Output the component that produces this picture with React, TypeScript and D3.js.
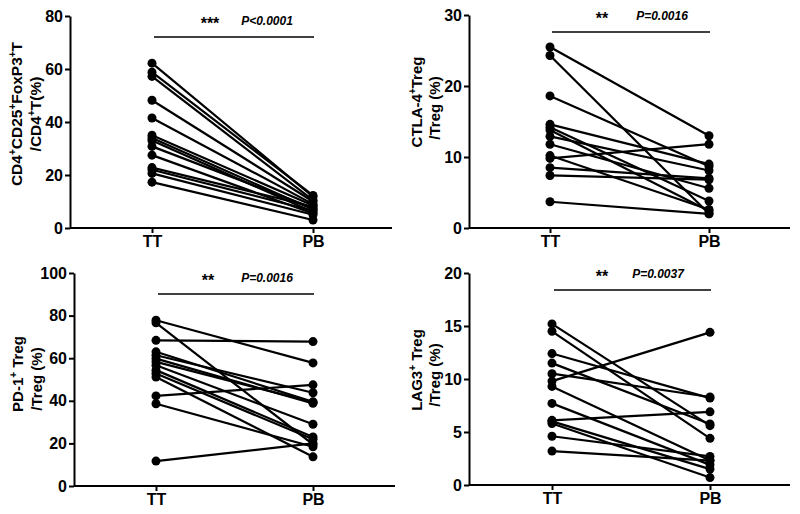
import { useRef, useEffect } from 'react';
import * as d3 from 'd3';

const groups = ['TT', 'PB'];

// panel A: CD4+CD25+FoxP3+T / CD4+T
const foxp3TT = [62.2, 58.8, 57.2, 48.2, 41.5, 35.0, 34.0, 33.0, 30.8, 27.5, 22.8, 22.0, 20.6, 17.3];
const foxp3PB = [11.8, 12.3, 10.5, 10.0, 9.0, 8.5, 7.0, 6.0, 7.5, 5.5, 8.0, 6.5, 5.0, 3.0];

// panel B: CTLA-4+ Treg
const ctlaTT = [25.5, 24.3, 18.6, 14.6, 14.2, 13.8, 12.9, 11.8, 9.8, 10.2, 8.5, 7.4, 3.7];
const ctlaPB = [13.0, 2.0, 8.7, 9.0, 3.8, 2.4, 8.1, 5.6, 11.8, 2.6, 7.0, 6.8, 2.0];

// panel C: PD-1+ Treg
const pd1TT = [77.8, 76.6, 68.4, 63.0, 61.4, 59.8, 58.3, 56.7, 54.4, 52.8, 51.2, 42.3, 38.6, 11.7];
const pd1PB = [57.8, 19.5, 67.8, 39.5, 43.8, 38.8, 39.3, 29.0, 23.0, 21.9, 13.7, 47.5, 18.4, 20.0];

// panel D: LAG3+ Treg
const lag3TT = [15.2, 14.5, 12.4, 11.5, 10.5, 9.8, 9.3, 7.7, 6.1, 6.0, 5.8, 4.6, 3.2];
const lag3PB = [5.6, 4.4, 8.2, 5.75, 8.3, 14.4, 2.3, 1.9, 6.9, 1.5, 0.7, 2.7, 2.3];

const panels = [
  {
    tt: foxp3TT, pb: foxp3PB, max: 80, step: 20,
    x0: 70, xEnd: 392, yTop: 16, yBottom: 228, xTT: 152, xPB: 313,
    stars: '***', p: 'P<0.0001', starX: 210, pX: 267, sigY: 37, textY: 25,
    label1: [['CD4', 'n'], ['+', 's'], ['CD25', 'n'], ['+', 's'], ['FoxP3', 'n'], ['+', 's'], ['T', 'n']],
    label2: [['/CD4', 'n'], ['+', 's'], ['T(%)', 'n']],
    lx1: 22, lx2: 41, ly1: 114, ly2: 114, fs: 15.5,
  },
  {
    tt: ctlaTT, pb: ctlaPB, max: 30, step: 10,
    x0: 469, xEnd: 790, yTop: 15, yBottom: 228, xTT: 550, xPB: 709,
    stars: '**', p: 'P=0.0016', starX: 602, pX: 662, sigY: 32, textY: 20,
    label1: [['CTLA-4', 'n'], ['+', 's'], ['Treg', 'n']],
    label2: [['/Treg (%)', 'n']],
    lx1: 422, lx2: 440, ly1: 102, ly2: 108, fs: 15,
  },
  {
    tt: pd1TT, pb: pd1PB, max: 100, step: 20,
    x0: 74, xEnd: 395, yTop: 273, yBottom: 486, xTT: 156, xPB: 313,
    stars: '**', p: 'P=0.0016', starX: 208, pX: 267, sigY: 294, textY: 282,
    label1: [['PD-1', 'n'], ['+', 's'], [' Treg', 'n']],
    label2: [['/Treg (%)', 'n']],
    lx1: 23, lx2: 42, ly1: 374, ly2: 379, fs: 15,
  },
  {
    tt: lag3TT, pb: lag3PB, max: 20, step: 5,
    x0: 469, xEnd: 790, yTop: 273, yBottom: 485, xTT: 552, xPB: 710,
    stars: '**', p: 'P=0.0037', starX: 602, pX: 658, sigY: 290, textY: 278,
    label1: [['LAG3', 'n'], ['+', 's'], [' Treg', 'n']],
    label2: [['/Treg (%)', 'n']],
    lx1: 422, lx2: 440, ly1: 370, ly2: 375, fs: 15,
  },
];

const App = () => {
  const ref = useRef(null);

  useEffect(() => {
    const svg = d3.select(ref.current);
    svg.selectAll('*').remove();
    const font = '"Liberation Sans", Arial, sans-serif';

    panels.forEach(p => {
      const g = svg.append('g').attr('font-family', font).attr('font-weight', 'bold');

      const y = d3.scaleLinear().domain([0, p.max]).range([p.yBottom, p.yTop]);
      const x = d3.scalePoint().domain(groups).range([p.xTT, p.xPB]);

      // y axis
      const yAxis = g.append('g')
        .attr('transform', `translate(${p.x0},0)`)
        .call(d3.axisLeft(y).tickValues(d3.range(0, p.max + 0.001, p.step)).tickSize(5).tickPadding(2).tickSizeOuter(0));
      yAxis.select('.domain').attr('stroke', '#000').attr('stroke-width', 2);
      yAxis.selectAll('.tick line').attr('stroke', '#000').attr('stroke-width', 2);
      yAxis.selectAll('.tick text').attr('font-size', 16).attr('font-family', font).attr('font-weight', 'bold').attr('fill', '#000');

      // x axis
      const xAxis = g.append('g')
        .attr('transform', `translate(0,${p.yBottom})`)
        .call(d3.axisBottom(x).tickSize(5).tickPadding(3).tickSizeOuter(0));
      xAxis.select('.domain').attr('d', `M${p.x0},0H${p.xEnd}`).attr('stroke', '#000').attr('stroke-width', 2);
      xAxis.selectAll('.tick line').attr('stroke', '#000').attr('stroke-width', 2);
      xAxis.selectAll('.tick text').attr('font-size', 16).attr('font-family', font).attr('font-weight', 'bold').attr('fill', '#000');

      // paired lines
      const pairs = p.tt.map((v, i) => [v, p.pb[i]]);
      const line = d3.line<number>().x((_, i) => x(groups[i])).y(d => y(d));
      g.selectAll('.pair')
        .data(pairs)
        .enter().append('path')
        .attr('d', d => line(d))
        .attr('fill', 'none')
        .attr('stroke', '#000')
        .attr('stroke-width', 2.2);

      const pts = pairs.flatMap(d => [{ g: 'TT', v: d[0] }, { g: 'PB', v: d[1] }]);
      g.selectAll('.dot')
        .data(pts)
        .enter().append('circle')
        .attr('cx', d => x(d.g))
        .attr('cy', d => y(d.v))
        .attr('r', 4.5)
        .attr('fill', '#000');

      // significance bar
      g.append('line')
        .attr('x1', p.xTT + 2).attr('x2', p.xPB + 1)
        .attr('y1', p.sigY).attr('y2', p.sigY)
        .attr('stroke', '#000').attr('stroke-width', 1.5);
      g.append('text')
        .attr('x', p.starX).attr('y', p.textY + 4)
        .attr('text-anchor', 'middle').attr('font-size', 16)
        .text(p.stars);
      g.append('text')
        .attr('x', p.pX).attr('y', p.textY)
        .attr('text-anchor', 'middle').attr('font-size', 12).attr('font-style', 'italic')
        .text(p.p);

      // y label
      [[p.label1, p.lx1, p.ly1], [p.label2, p.lx2, p.ly2]].forEach(([parts, lx, ly]: any) => {
        const t = g.append('text')
          .attr('transform', `translate(${lx},${ly}) rotate(-90)`)
          .attr('text-anchor', 'middle')
          .attr('font-size', p.fs);
        parts.forEach(([s, kind]) => {
          if (kind === 's') {
            t.append('tspan').attr('font-size', 10).attr('dy', -6).text(s);
          } else {
            const ts = t.append('tspan').text(s);
            if (t.selectAll('tspan').size() > 1) ts.attr('dy', 6);
          }
        });
      });
    });
  }, []);

  return (
    <svg ref={ref} width={800} height={514}
      style={{ position: 'absolute', left: 0, top: 0, background: '#fff' }} />
  );
};

export default App;
